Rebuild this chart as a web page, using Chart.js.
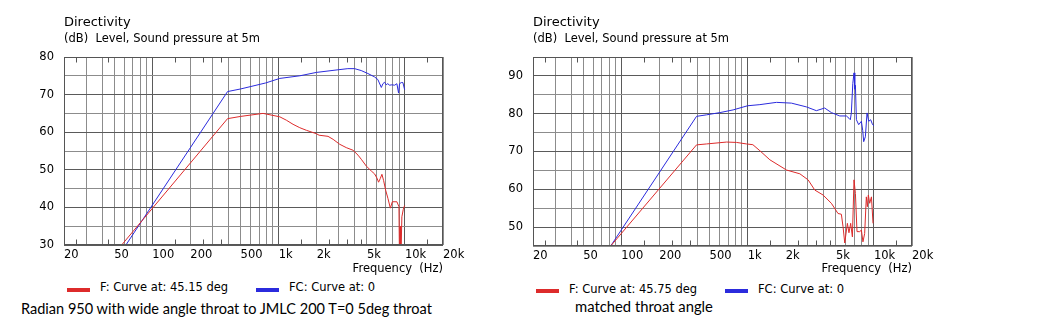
<!DOCTYPE html>
<html><head><meta charset="utf-8">
<script src="https://cdn.jsdelivr.net/npm/chart.js@4.4.1/dist/chart.umd.min.js"></script>
<style>
html,body{margin:0;padding:0;background:#fff;width:1058px;height:321px;overflow:hidden;position:relative;}
.t{position:absolute;white-space:pre;font-family:'DejaVu Sans',sans-serif;color:#000;line-height:1;}
.c{position:absolute;white-space:pre;font-family:'Lato',sans-serif;color:#000;line-height:1;}
.sw{position:absolute;height:4px;width:23px;}
canvas{position:absolute;top:0;}
</style></head><body>
<canvas id="left" width="520" height="280" style="left:0px"></canvas>
<canvas id="right" width="520" height="280" style="left:469px"></canvas>

<div class="t" style="left:64px;top:15px;font-size:13px">Directivity</div>
<div class="t" style="left:64px;top:33px;font-size:11.5px">(dB)  Level, Sound pressure at 5m</div>
<div class="t" style="left:533px;top:15px;font-size:13px">Directivity</div>
<div class="t" style="left:533px;top:33px;font-size:11.5px">(dB)  Level, Sound pressure at 5m</div>

<div class="sw" style="left:67px;top:288px;background:#dd2b2b"></div>
<div class="t" style="left:100px;top:282px;font-size:11.5px" id="lgL1"></div>
<div class="sw" style="left:256px;top:288px;background:#2b2bdd"></div>
<div class="t" style="left:289px;top:282px;font-size:11.5px" id="lgL2"></div>

<div class="sw" style="left:536px;top:289px;background:#dd2b2b"></div>
<div class="t" style="left:569px;top:283.5px;font-size:11.5px" id="lgR1"></div>
<div class="sw" style="left:725px;top:289px;background:#2b2bdd"></div>
<div class="t" style="left:758px;top:283.5px;font-size:11.5px" id="lgR2"></div>

<div class="c" id="capL" style="left:21px"></div>
<div class="c" id="capR" style="left:575px"></div>

<script>
// ---------- data ----------
const xGridValues = [20,30,40,50,60,70,80,90,100,200,300,400,500,600,700,800,900,1000,2000,3000,4000,5000,6000,7000,8000,9000,10000,20000];
const xMajorValues = [100,1000,10000];
const xLabelValues = [20,50,100,200,500,1000,2000,5000,10000,20000];
const xLabelTexts  = ['20','50','100','200','500','1k','2k','5k','10k','20k'];
const xMinorMarks  = [25,45,150,250,350,1500,2500,3500,4500,15000];

const seriesNames = ['F: Curve at: 45.15 deg','FC: Curve at: 0','F: Curve at: 45.75 deg','FC: Curve at: 0'];
const captions = ['Radian 950 with wide angle throat to JMLC 200 T=0 5deg throat','matched throat angle'];

// left chart, F (red)
const leftFHz = [57.2,394,500,753,1020,1150,1300,1470,1660,1990,2090,2460,2700,3040,3430,3880,4250,4510,4940,5410,5750,6000,6180,6380,6570,6780,7030,7330,7660,7940,8630,8960,9060,9150,9250,9450,9700,9940];
const leftFdB = [30,63.6,64.2,65.0,64.1,63.2,62.1,61.2,60.5,59.6,59.2,58.9,58.1,56.8,55.9,55.2,53.9,52.8,51.0,49.7,48.9,47.8,46.7,47.7,48.8,47.1,44.6,42.4,39.8,41.5,41.5,40.2,24,35,24,37.5,39.5,40.5];
// left chart, FC (blue)
const leftCHz = [61.8,394,500,790,1020,1470,1990,2950,3530,3990,4500,5090,5750,6100,6500,6690,6900,7100,7300,7560,7880,8280,8630,8900,9060,9350,9630,9940];
const leftCdB = [30,70.8,71.5,73.1,74.3,75.0,75.9,76.6,76.9,76.9,76.4,75.6,74.7,74.0,71.9,72.9,73.3,72.6,72.9,72.5,72.6,72.5,72.9,70.4,72.9,73.2,73.2,71.3];

// right chart, F (red)
const rightFHz = [82.4,394,473,681,817,980,1100,1250,1500,2030,2590,3010,3400,3950,4600,5190,5520,5690,5870,6160,6340,6540,6750,6950,7130,7340,7710,7950,8180,8440,8700,8870,9030,9250,9550,9830];
const rightFdB = [45,71.75,72.0,72.5,72.4,72.0,71.8,70.2,67.8,65.1,64.1,62.5,59.8,58.5,56.3,53.6,53.4,50.1,45.8,51.0,48.5,51.0,47.4,62.5,58.9,48.8,48.8,49.2,46.1,48.3,58.0,55.4,58.5,56.3,58.0,51.0];
// right chart, FC (blue)
const rightCHz = [82.4,394,473,605,767,1000,1250,1690,2220,2920,3500,4070,4600,5360,6050,6340,6500,6620,6800,6950,7050,7130,7260,7570,7950,8150,8290,8550,8810,9090,9420,9700,9950];
const rightCdB = [45,79.3,79.7,80.3,81.0,82.1,82.4,83.0,82.8,81.8,80.8,81.5,80.3,79.4,79.4,78.8,78.4,80.2,88.0,90.8,86.5,87.5,78.4,77.1,78.0,75.5,72.6,73.9,80.2,78.0,78.4,77.3,76.8];

// ---------- chart ----------
Chart.defaults.font.family = "'DejaVu Sans', sans-serif";
Chart.defaults.font.size = 11.5;
Chart.defaults.color = '#000';

const toPts = (hz, db) => hz.map((f, i) => ({x: f, y: db[i]}));
const RED = '#dd2b2b', BLUE = '#2b2bdd';
const MAJOR = '#5a5a5a', MINOR = '#8c8c8c';

const framePlugin = {
  id: 'frame',
  afterDraw(chart) {
    const {ctx, chartArea: a} = chart;
    const x = chart.scales.x;
    ctx.save();
    ctx.strokeStyle = '#555';
    ctx.lineWidth = 1;
    const L = Math.round(a.left) + 0.5, T = Math.round(a.top) + 0.5;
    const R = Math.round(a.right) - 0.5, B = Math.round(a.bottom) - 0.5;
    ctx.strokeRect(L, T, R - L, B - T);
    ctx.beginPath();
    xMinorMarks.forEach(v => {
      const px = Math.round(x.getPixelForValue(v)) + 0.5;
      ctx.moveTo(px, T); ctx.lineTo(px, T + 5);
      ctx.moveTo(px, B); ctx.lineTo(px, B - 5);
    });
    ctx.stroke();
    ctx.restore();
  }
};

function makeChart(id, yMin, yMax, xAxisH, red, blue, names) {
  return new Chart(document.getElementById(id), {
    type: 'line',
    data: {
      datasets: [
        {label: names[0], data: red, borderColor: RED, borderWidth: 1, pointRadius: 0, tension: 0, fill: false},
        {label: names[1], data: blue, borderColor: BLUE, borderWidth: 1, pointRadius: 0, tension: 0, fill: false}
      ]
    },
    options: {
      responsive: false,
      animation: false,
      events: [],
      layout: {padding: {left: 0, top: 57, right: 77, bottom: 0}},
      plugins: {legend: {display: false}, tooltip: {enabled: false}},
      scales: {
        x: {
          type: 'logarithmic', min: 20, max: 20000,
          afterBuildTicks: s => { s.ticks = xGridValues.map(v => ({value: v})); },
          afterFit: s => { s.height = xAxisH; },
          ticks: {
            autoSkip: false, maxRotation: 0, minRotation: 0, align: 'start', padding: 3,
            callback: v => { const i = xLabelValues.indexOf(v); return i >= 0 ? xLabelTexts[i] : ''; }
          },
          grid: {drawTicks: false, lineWidth: 1, color: c => (c.tick && xMajorValues.includes(c.tick.value)) ? MAJOR : MINOR},
          border: {display: false},
          title: {display: true, text: 'Frequency  (Hz)', align: 'end', padding: {top: 0, bottom: 4}}
        },
        y: {
          min: yMin, max: yMax,
          afterFit: s => { s.width = 64; },
          ticks: {stepSize: 5, padding: 10, callback: v => (v % 10 === 0 ? String(v) : '')},
          grid: {drawTicks: false, lineWidth: 1, color: c => (c.tick && c.tick.value % 10 === 0) ? MAJOR : MINOR},
          border: {display: false}
        }
      }
    },
    plugins: [framePlugin]
  });
}

makeChart('left', 30, 80, 35, toPts(leftFHz, leftFdB), toPts(leftCHz, leftCdB), [seriesNames[0], seriesNames[1]]);
makeChart('right', 45, 95, 34, toPts(rightFHz, rightFdB), toPts(rightCHz, rightCdB), [seriesNames[2], seriesNames[3]]);

// ---------- text ----------
document.getElementById('lgL1').textContent = seriesNames[0];
document.getElementById('lgL2').textContent = seriesNames[1];
document.getElementById('lgR1').textContent = seriesNames[2];
document.getElementById('lgR2').textContent = seriesNames[3];

function fitCaption(id, text, targetW, centerY) {
  const el = document.getElementById(id);
  el.textContent = text;
  el.style.fontSize = '16px';
  const w = el.getBoundingClientRect().width;
  const size = 16 * targetW / w;
  el.style.fontSize = size.toFixed(2) + 'px';
  el.style.top = (centerY - 0.527 * size).toFixed(1) + 'px';
}
fitCaption('capL', captions[0], 411, 310);
fitCaption('capR', captions[1], 138, 307);
</script>
</body></html>
